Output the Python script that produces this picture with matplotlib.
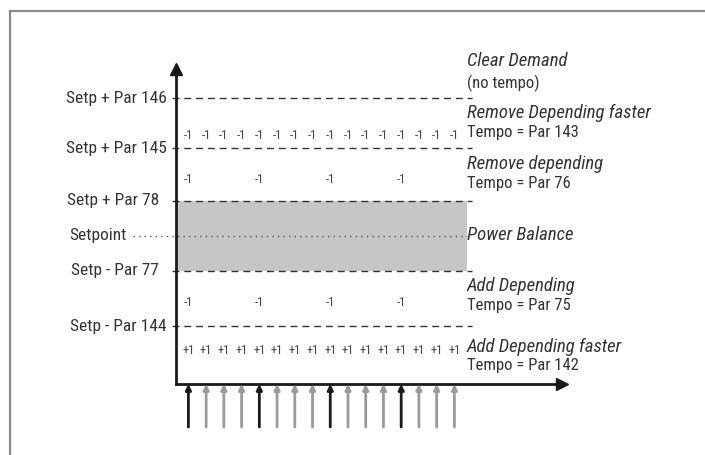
import matplotlib
matplotlib.use("Agg")
import matplotlib.pyplot as plt
from matplotlib import font_manager

# look for a narrow / condensed sans to match the original type
fonts = font_manager.fontManager.ttflist
FONT, STRETCH = "DejaVu Sans", "normal"
for f in fonts:
    if f.name in ("Liberation Sans Narrow", "Roboto Condensed", "Open Sans Condensed", "Arial Narrow"):
        FONT = f.name
        break
else:
    for f in fonts:
        if f.name == "DejaVu Sans" and str(f.stretch) in ("condensed", "semi-condensed", "500"):
            STRETCH = "condensed"
plt.rcParams["font.family"] = [FONT, "DejaVu Sans"]
plt.rcParams["font.stretch"] = STRETCH

# threshold levels (setpoint = 0)
level_names = ["Setp + Par 146", "Setp + Par 145", "Setp + Par 78  ", "Setpoint", "Setp - Par 77  ", "Setp - Par 144"]
level_vals = [3.93, 2.49, 1.0, 0.0, -1.01, -2.59]

# pulse counter per band
pulses = list(range(1, 17))
black_pulses = [1, 5, 9, 13]
row_vals = [2.87, 1.61, -1.91, -3.27]
row_text = ["-1", "-1", "-1", "+1"]
row_step = [1, 4, 4, 1]

# band descriptions on the right
titles = ["Clear Demand", "Remove Depending faster", "Remove depending", "Power Balance",
          "Add Depending", "Add Depending faster"]
title_vals = [4.99, 3.5, 2.04, 0.01, -1.44, -3.19]
subtitles = ["(no tempo)", "Tempo = Par 143", "Tempo = Par 76", "", "Tempo = Par 75", "Tempo = Par 142"]
subtitle_vals = [4.36, 2.96, 1.5, 0.0, -1.99, -3.7]

band_end = 16.71

fig = plt.figure(figsize=(7.05, 4.55), dpi=100)

# outer frame
fig.add_artist(plt.Line2D([10 / 705, 10 / 705], [0, 1 - 11 / 455], color="#8a8a8a", lw=1.6))
fig.add_artist(plt.Line2D([10 / 705, 1], [1 - 11 / 455, 1 - 11 / 455], color="#8a8a8a", lw=1.6))

ax = fig.add_axes([176 / 705, (455 - 384) / 455, (562 - 176) / 705, (384 - 69) / 455])
ax.set_xlim(0.3, 22.07)
ax.set_ylim(-4.24, 4.76)
for s in ["top", "right"]:
    ax.spines[s].set_visible(False)
ax.spines["left"].set_linewidth(2)
ax.spines["bottom"].set_linewidth(2)
ax.spines["left"].set_color("#1a1a1a")
ax.spines["bottom"].set_color("#1a1a1a")
ax.set_xticks([])
ax.set_yticks([])
ax.patch.set_alpha(0)

# arrow heads on axes
ax.plot([0.3], [4.76], marker="^", ms=9, color="#1a1a1a", clip_on=False, zorder=5)
ax.plot([22.07], [-4.24], marker=">", ms=9, color="#1a1a1a", clip_on=False, zorder=5)

# power balance band
ax.axhspan(level_vals[4], level_vals[2], xmin=0, xmax=(band_end - 0.3) / (22.07 - 0.3),
           color="#c6c6c6", lw=0, zorder=0)

for name, v in zip(level_names, level_vals):
    if name == "Setpoint":
        ax.plot([-2.14, band_end], [v, v], color="#555555", lw=1, ls=(0, (1, 3)), clip_on=False)
    else:
        ax.plot([0.07, 17.0], [v, v], color="#333333", lw=1, ls=(0, (5, 3.5)), clip_on=False)
    ax.text(-0.21 if name != "Setpoint" else -2.5, v, name, ha="right", va="center",
            fontsize=12.5, color="#333333")

# counter marks
for y, t, step in zip(row_vals, row_text, row_step):
    for p in pulses[::step]:
        ax.text(p, y, t, ha="center", va="center", fontsize=9, color="#444444")

# pulse arrows below the time axis
for p in pulses:
    c = "#1a1a1a" if p in black_pulses else "#9a9a9a"
    ax.annotate("", xy=(p, -4.24), xytext=(p, -5.47), annotation_clip=False,
                arrowprops=dict(arrowstyle="-|>", color=c, lw=2, mutation_scale=8,
                                shrinkA=0, shrinkB=0))

for t, y in zip(titles, title_vals):
    ax.text(band_end, y, t, ha="left", va="center", fontsize=13.5, style="italic",
            color="#333333", clip_on=False)
for t, y in zip(subtitles, subtitle_vals):
    if t:
        ax.text(band_end, y, t, ha="left", va="center", fontsize=12, color="#333333",
                clip_on=False)

fig.savefig("out.png", dpi=100)
